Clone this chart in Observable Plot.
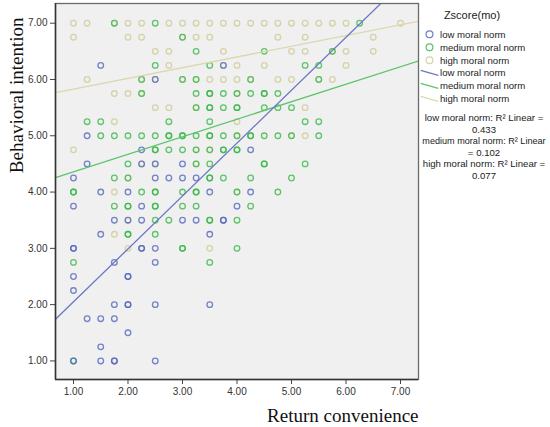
<!DOCTYPE html>
<html><head><meta charset="utf-8">
<script src="https://cdn.jsdelivr.net/npm/d3@7"></script>
<script src="https://cdn.jsdelivr.net/npm/@observablehq/plot@0.6"></script>
<style>
body{margin:0;background:#fff;}
#wrap{position:relative;width:550px;height:427px;}
#legend{position:absolute;left:419px;top:0;}
</style></head>
<body><div id="wrap"><div id="chart"></div><svg id="legend" width="131" height="200"></svg></div>
<script>
const groups = ["low moral norm", "medium moral norm", "high moral norm"];
const dotColors = ["#5566be", "#39b94a", "#cfca96"];
const lineColors = ["#6b77c4", "#5cc46a", "#dcd7ae"];
const fitIntercept = [1.11, 4.05, 5.64];
const fitSlope = [0.94, 0.311, 0.19];
const r2Values = ["0.433", "0.102", "0.077"];
const xTicks = [1, 2, 3, 4, 5, 6, 7];
const yTicks = [1, 2, 3, 4, 5, 6, 7];
const xDomain = [0.67, 7.33];
const yDomain = [0.67, 7.35];
const legendTitle = "Zscore(mo)";
const xLabel = "Return convenience";
const yLabel = "Behavioral intention";

const lowPoints = [
  [1.5,6.25],[3.75,6.25],[2.5,6],[1.25,5],[2.25,4.75],[4.25,4.75],
  [1.25,4.5],[2.25,4.5],[2.5,4.5],[3,4.5],
  [1,4.25],[2.5,4.25],[2.75,4.25],[3,4.25],[3.25,4.25],
  [1.5,4],[2,4],[3.5,4],[4.25,4],
  [1,3.75],[2.25,3.75],[4,3.75],
  [1.75,3.5],[2,3.5],[2.25,3.5],[3,3.5],[3.25,3.5],[3.75,3.5],[3.75,3.5],
  [1.5,3.25],[3.5,3.25],
  [1,3],[1,3],[2.25,3],[2.25,3],[2.5,3],
  [1.75,2.75],[2.5,2.75],
  [1,2.5],[2,2.5],[2,2.5],
  [1,2.25],
  [1.75,2],[2,2],[2,2],[2.5,2],[3.5,2],
  [1.25,1.75],[1.5,1.75],[1.75,1.75],
  [2,1.5],[1.5,1.25],
  [1,1],[1.5,1],[1.75,1],[1.75,1],[2.5,1]
];
const mediumPoints = [
  [1.75,7],[2.5,7],[6.25,7],
  [3,6.75],
  [3.25,6.5],[4.5,6.5],[5.75,6.5],
  [2.5,6.25],[3.5,6.25],[5.25,6.25],[5.5,6.25],
  [2.25,6],[3,6],[3.25,6],[4.25,6],[5.5,6],
  [2.25,5.75],[3.25,5.75],[3.5,5.75],[3.5,5.75],[3.75,5.75],[4,5.75],[4.25,5.75],[4.5,5.75],[4.5,5.75],[4.75,5.75],
  [3.25,5.5],[3.5,5.5],[3.5,5.5],[3.75,5.5],[4,5.5],[4,5.5],[4.5,5.5],[4.75,5.5],[5,5.5],
  [1.25,5.25],[1.5,5.25],[2.75,5.25],[3.5,5.25],[5.25,5.25],[5.5,5.25],
  [1.5,5],[1.75,5],[2,5],[2.25,5],[2.5,5],[2.75,5],[2.75,5],[3,5],[3,5],[3.25,5],[3.5,5],[3.5,5],[3.75,5],[4,5],[4.25,5],[4.25,5],[4.5,5],[4.75,5],[5,5],[5.5,5],
  [2.5,4.75],[2.5,4.75],[2.75,4.75],[3,4.75],[3.25,4.75],[3.5,4.75],[3.75,4.75],[3.75,4.75],[4,4.75],[4,4.75],
  [2,4.5],[3.25,4.5],[3.5,4.5],[4.5,4.5],[4.5,4.5],[5.25,4.5],
  [1.75,4.25],[2,4.25],[3.5,4.25],[3.5,4.25],[3.75,4.25],[4.25,4.25],[5,4.25],
  [1,4],[1,4],[2.25,4],[2.5,4],[2.5,4],[3,4],[3.25,4],[3.25,4],[4,4],[4.75,4],
  [1.75,3.75],[2,3.75],[2,3.75],[2.5,3.75],[2.5,3.75],[3,3.75],[3.25,3.75],[4.25,3.75],
  [2.5,3.5],[2.75,3.5],[3.5,3.5],[3.5,3.5],[4,3.5],
  [2,3.25],[2,3.25],[2.5,3.25],
  [3,3],[3,3],[4,3],
  [1,2.75],[3.5,2.75],
  [1,1]
];
const highPoints = [
  [1,7],[1.25,7],[1.75,7],[2,7],[2.25,7],[2.75,7],[3,7],[3.25,7],[3.5,7],[3.75,7],[4,7],[4.25,7],[4.5,7],[4.75,7],[5,7],[5.25,7],[5.5,7],[5.75,7],[6,7],[7,7],
  [1,6.75],[2,6.75],[2.25,6.75],[3,6.75],[3.25,6.75],[3.5,6.75],[4.75,6.75],[5.25,6.75],[6.5,6.75],
  [2.5,6.5],[2.75,6.5],[3.75,6.5],[5,6.5],[5.25,6.5],[5.75,6.5],[6,6.5],[6.5,6.5],
  [2.75,6.25],[3.75,6.25],[4,6.25],[4.5,6.25],[6,6.25],
  [1.25,6],[2.25,6],[2.5,6],[3,6],[3.25,6],[3.5,6],[3.75,6],[4,6],[4.25,6],[4.75,6],[5,6],[5.5,6],[5.75,6],
  [1.75,5.75],[2,5.75],[2.25,5.75],[4,5.75],
  [2.5,5.5],[2.75,5.5],[3.25,5.5],[5.25,5.5],
  [1.75,5.25],[4,5.25],
  [4,5],[5,5],[5.25,5],
  [1,4.75],[3.25,4.75],[3.5,4.75],
  [2.25,4.5],[2.5,4.5],[3.25,4.5],
  [2,4.25],
  [1.75,4],[4,4],
  [2,3.5],[1.75,3.25],
  [2,3],[3.5,3]
];

const pointSets = [lowPoints, mediumPoints, highPoints];
// draw high first, then medium, then low
const points = [2, 1, 0].flatMap(i => pointSets[i].map(([x, y]) => ({x, y, g: groups[i]})));

const fitMarks = groups.map((g, i) => Plot.line(
  xDomain.map(x => ({x, y: fitIntercept[i] + fitSlope[i] * x})),
  {x: "x", y: "y", stroke: lineColors[i], strokeWidth: 1.3, clip: true}
));
const orderedFits = [fitMarks[2], fitMarks[1], fitMarks[0]];

const chart = Plot.plot({
  width: 550,
  height: 427,
  marginLeft: 55,
  marginRight: 132,
  marginTop: 3,
  marginBottom: 48,
  style: {background: "#ffffff", color: "#333", fontFamily: "Liberation Sans, Arial, sans-serif"},
  x: {domain: xDomain},
  y: {domain: yDomain},
  color: {domain: groups, range: dotColors},
  marks: [
    Plot.frame({fill: "#f0f0f0", stroke: "none"}),
    Plot.dot(points, {x: "x", y: "y", stroke: "g", r: 2.8, strokeWidth: 1.3, strokeOpacity: 0.8, fill: "none"}),
    ...orderedFits,
    Plot.frame({stroke: "#6a6a6a", strokeWidth: 1.3}),
    Plot.axisX({ticks: xTicks, tickFormat: d3.format(".2f"), tickSize: 5, tickPadding: 3, fontSize: 10, label: null, stroke: "#444"}),
    Plot.axisY({ticks: yTicks, tickFormat: d3.format(".2f"), tickSize: 5, tickPadding: 3, fontSize: 10, label: null, stroke: "#444"}),
    Plot.ruleX([xDomain[0]], {stroke: "#333", strokeWidth: 1.5}),
    Plot.ruleY([yDomain[0]], {stroke: "#333", strokeWidth: 1.5}),
    Plot.text([yLabel], {text: d => d, frameAnchor: "top-left", dx: -39, dy: 14, rotate: -90, textAnchor: "end", lineAnchor: "middle", fontSize: 19, fontFamily: "Liberation Serif, Times New Roman, serif", fill: "#111"}),
    Plot.text([xLabel], {text: d => d, frameAnchor: "bottom-right", dx: 0, dy: 36, textAnchor: "end", lineAnchor: "middle", fontSize: 19, fontFamily: "Liberation Serif, Times New Roman, serif", fill: "#111"})
  ]
});
document.getElementById("chart").appendChild(chart);

// legend
const lg = d3.select("#legend");
const ox = 419; // page x of legend svg
const font = "Liberation Sans, Arial, sans-serif";
lg.append("text").attr("x", 472 - ox).attr("y", 15).attr("dy", "0.35em").attr("text-anchor", "middle")
  .attr("font-family", font).attr("font-size", 11).attr("fill", "#222").text(legendTitle);
groups.forEach((g, i) => {
  const cy = 34.3 + i * 13;
  lg.append("circle").attr("cx", 429.5 - ox).attr("cy", cy).attr("r", 3.4)
    .attr("fill", "none").attr("stroke", dotColors[i]).attr("stroke-width", 1.2).attr("stroke-opacity", 0.85);
  lg.append("text").attr("x", 440 - ox).attr("y", cy).attr("dy", "0.35em")
    .attr("font-family", font).attr("font-size", 9.6).attr("fill", "#222").text(g);
});
groups.forEach((g, i) => {
  const cy = 73 + i * 13;
  lg.append("line").attr("x1", 420.7 - ox).attr("y1", cy - 2.6).attr("x2", 438.3 - ox).attr("y2", cy + 2.4)
    .attr("stroke", lineColors[i]).attr("stroke-width", 1.3);
  lg.append("text").attr("x", 440 - ox).attr("y", cy).attr("dy", "0.35em")
    .attr("font-family", font).attr("font-size", 9.6).attr("fill", "#222").text(g);
});
const r2Lines = [
  groups[0] + ": R\u00B2 Linear =", r2Values[0],
  groups[1] + ": R\u00B2 Linear", "= " + r2Values[1],
  groups[2] + ": R\u00B2 Linear =", r2Values[2]
];
r2Lines.forEach((t, i) => {
  lg.append("text").attr("x", 484 - ox).attr("y", 118 + i * 11.5).attr("dy", "0.35em").attr("text-anchor", "middle")
    .attr("font-family", font).attr("font-size", i === 2 ? 9.1 : 9.6).attr("fill", "#222").text(t);
});
</script>
</body></html>
